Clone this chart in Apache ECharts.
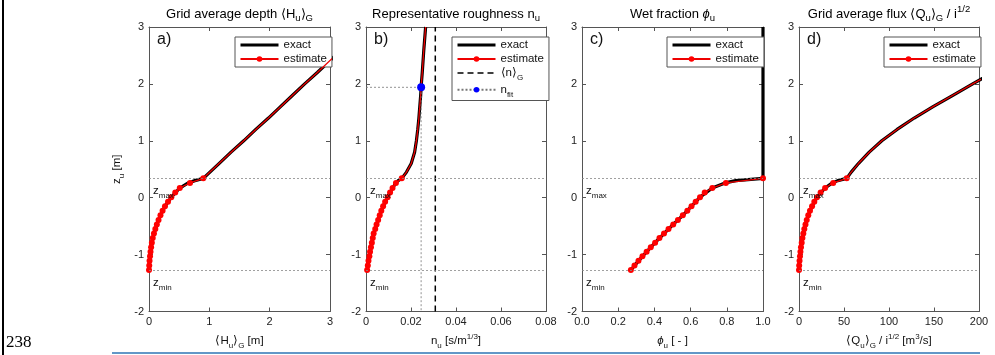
<!DOCTYPE html>
<html>
<head>
<meta charset="utf-8">
<script src="https://cdn.jsdelivr.net/npm/echarts@6/dist/echarts.min.js"></script>
<style>
  html, body { margin: 0; padding: 0; background: #fff; }
  #chart { width: 995px; height: 355px; }
</style>
</head>
<body>
<div id="chart"></div>
<script>
// elevations of the estimate points and of the exact curve [m]
const zEst = [-1.27, -1.19, -1.11, -1.03, -0.95, -0.87, -0.79, -0.71, -0.63, -0.55, -0.47,
  -0.39, -0.31, -0.23, -0.15, -0.07, 0.01, 0.09, 0.17, 0.26, 0.34];
const zExact = [-1.27, -1.11, -0.95, -0.79, -0.63, -0.47, -0.31, -0.15, 0.01, 0.17, 0.26,
  0.30, 0.34, 0.45, 0.6, 0.8, 1.0, 1.2, 1.4, 1.6, 1.8, 2.0, 2.2, 2.6, 3.0];

// a) grid average depth
const depthEst = [0, 0.004, 0.009, 0.017, 0.025, 0.035, 0.047, 0.062, 0.082, 0.105, 0.13,
  0.158, 0.19, 0.225, 0.265, 0.315, 0.37, 0.435, 0.51, 0.68, 0.90];
const depthExact = [0, 0.009, 0.025, 0.047, 0.082, 0.13, 0.19, 0.265, 0.37, 0.51, 0.65,
  0.76, 0.90, 1.01, 1.16, 1.36, 1.57, 1.77, 1.98, 2.18, 2.38, 2.58, 2.79, 3.19, 3.60];
// b) representative roughness
const roughEst = [0.0005, 0.0008, 0.0011, 0.0015, 0.0018, 0.0022, 0.0026, 0.0030, 0.0034, 0.0041, 0.0047,
  0.0054, 0.0061, 0.0068, 0.0076, 0.0085, 0.0096, 0.0107, 0.0118, 0.0133, 0.0159];
const roughExact = [0.0005, 0.0011, 0.0018, 0.0026, 0.0034, 0.0047, 0.0061, 0.0076, 0.0096, 0.0118, 0.0133,
  0.0143, 0.0159, 0.0180, 0.0201, 0.0216, 0.0224, 0.0230, 0.0235, 0.0239, 0.0243, 0.0246, 0.0250, 0.0257, 0.0265];
const nGrid = 0.0308;
const nFit = 0.0245;
const zFit = 1.94;
// c) wet fraction
const wetEst = [0.27, 0.29, 0.312, 0.334, 0.357, 0.38, 0.404, 0.428, 0.453, 0.478, 0.504,
  0.53, 0.557, 0.582, 0.605, 0.628, 0.652, 0.678, 0.72, 0.795, 1.0];
const wetExact = [0.27, 0.312, 0.357, 0.404, 0.453, 0.504, 0.557, 0.605, 0.652, 0.72, 0.79,
  0.85, 1, 1, 1, 1, 1, 1, 1, 1, 1, 1, 1, 1, 1];
// d) grid average flux
const fluxEst = [0, 0.2, 0.6, 1.1, 1.6, 2.2, 3.0, 3.8, 4.8, 5.9, 7.2,
  8.6, 10.3, 12.2, 14.5, 17, 20, 24, 29, 38, 53];
const fluxExact = [0, 0.6, 1.6, 3.0, 4.8, 7.2, 10.3, 14.5, 20, 29, 37,
  43, 53, 58, 66, 78, 92, 109, 128, 149, 171, 193, 215, 259, 303];

const zMax = 0.345;
const zMin = -1.27;

// axis ranges [min, max, interval]
const xRanges = [[0, 3, 1], [0, 0.08, 0.02], [0, 1, 0.2], [0, 200, 50]];
const yTicks = [-2, 3, 1];

const FONT = 'Liberation Sans, Arial, sans-serif';

const rich = (fs) => ({
  n: { fontSize: fs, fontFamily: FONT, color: '#111', lineHeight: fs + 6 },
  i: { fontSize: fs, fontFamily: FONT, color: '#111', lineHeight: fs + 6, fontStyle: 'italic' },
  s: { fontSize: fs - 3.5, fontFamily: FONT, color: '#111', lineHeight: fs - 3, verticalAlign: 'bottom' },
  p: { fontSize: fs - 3.5, fontFamily: FONT, color: '#111', lineHeight: fs - 3, verticalAlign: 'top' },
});

const titles = [
  '{n|Grid average depth ⟨H}{s|u}{n|⟩}{s|G}',
  '{n|Representative roughness n}{s|u}',
  '{n|Wet fraction }{i|ϕ}{s|u}',
  '{n|Grid average flux ⟨Q}{s|u}{n|⟩}{s|G}{n| / i}{p|1/2}',
];
const xNames = [
  '{n|⟨H}{s|u}{n|⟩}{s|G}{n| [m]}',
  '{n|n}{s|u}{n| [s/m}{p|1/3}{n|]}',
  '{i|ϕ}{s|u}{n| [ - ]}',
  '{n|⟨Q}{s|u}{n|⟩}{s|G}{n| / i}{p|1/2}{n| [m}{p|3}{n|/s]}',
];
const panelTags = ['a)', 'b)', 'c)', 'd)'];

const grids = [
  { left: 149, width: 181 },
  { left: 366, width: 180 },
  { left: 582, width: 181 },
  { left: 799, width: 180 },
];
const TOP = 27, HEIGHT = 289;

const pairs = (xs, zs) => xs.map((v, i) => [v, zs[i]]);

const axisLine = { show: true, onZero: false, lineStyle: { color: '#555', width: 1 } };
const axisTick = { show: true, inside: true, length: 4, lineStyle: { color: '#555' } };

const xAxes = [], yAxes = [];
['bottom', 'top'].forEach((pos) => {
  xRanges.forEach((r, i) => {
    xAxes.push({
      type: 'value', gridIndex: i, position: pos, min: r[0], max: r[1], interval: r[2],
      axisLine, axisTick, splitLine: { show: false },
      axisLabel: {
        show: pos === 'bottom', color: '#222', fontSize: 11, fontFamily: FONT, margin: 5,
        formatter: i === 2 ? (v) => v.toFixed(1) : null,
      },
      name: pos === 'bottom' ? xNames[i] : '',
      nameLocation: 'middle', nameGap: 21,
      nameTextStyle: { rich: rich(11.5) },
    });
  });
});
['left', 'right'].forEach((pos) => {
  grids.forEach((g, i) => {
    yAxes.push({
      type: 'value', gridIndex: i, position: pos, min: yTicks[0], max: yTicks[1], interval: yTicks[2],
      axisLine, axisTick, splitLine: { show: false },
      axisLabel: { show: pos === 'left', color: '#222', fontSize: 11, fontFamily: FONT, margin: 5 },
      name: pos === 'left' && i === 0 ? '{n|z}{s|u}{n| [m]}' : '',
      nameLocation: 'middle', nameGap: 23, nameRotate: 90,
      nameTextStyle: { rich: rich(11.5) },
    });
  });
});

const guideLines = {
  silent: true, symbol: ['none', 'none'], animation: false,
  lineStyle: { color: '#888', type: [2, 2], width: 0.8 },
  emphasis: { disabled: true },
  label: { position: 'insideStartBottom', distance: 4, rich: rich(11.5) },
  data: [
    { yAxis: zMax, label: { formatter: '{n|z}{s|max}' } },
    { yAxis: zMin, label: { formatter: '{n|z}{s|min}' } },
  ],
};

const estVals = [depthEst, roughEst, wetEst, fluxEst];
const exactVals = [depthExact, roughExact, wetExact, fluxExact];

const series = [];
grids.forEach((g, i) => {
  series.push({
    type: 'line', name: 'exact', xAxisIndex: i, yAxisIndex: i,
    data: pairs(exactVals[i], zExact), symbol: 'none', animation: false,
    lineStyle: { color: '#000', width: 3.2 }, itemStyle: { color: '#000' }, z: 3,
  });
  // above z_max the estimate follows the analytic curve, drawn without markers
  // (not in panel c, where only the black exact line shows at phi = 1)
  const upper = i === 2 ? [] : pairs(exactVals[i], zExact)
    .filter((p) => p[1] > zMax)
    .map((p) => ({ value: p, symbol: 'none' }));
  series.push({
    type: 'line', name: 'estimate', xAxisIndex: i, yAxisIndex: i,
    data: pairs(estVals[i], zEst).concat(upper), symbol: 'circle', symbolSize: 6, animation: false,
    lineStyle: { color: '#e00', width: 1.3 }, itemStyle: { color: '#f00' }, z: 4,
    markLine: guideLines,
  });
});
// panel b extras
series.push({
  type: 'line', name: 'nG', xAxisIndex: 1, yAxisIndex: 1,
  data: [[nGrid, yTicks[0]], [nGrid, yTicks[1]]], symbol: 'none', animation: false,
  lineStyle: { color: '#000', width: 1.5, type: [6, 4] }, itemStyle: { color: '#000' }, z: 2,
});
series.push({
  type: 'line', name: 'nfit', xAxisIndex: 1, yAxisIndex: 1,
  data: [
    { value: [0, zFit], symbol: 'none' },
    { value: [nFit, zFit] },
    { value: [nFit, yTicks[0]], symbol: 'none' },
  ],
  symbol: 'circle', symbolSize: 8, animation: false,
  lineStyle: { color: '#777', width: 0.8, type: [2, 2] }, itemStyle: { color: '#00f' }, z: 5,
});

const legendNames = {
  exact: '{n|exact}',
  estimate: '{n|estimate}',
  nG: '{n|⟨n⟩}{s|G}',
  nfit: '{n|n}{s|fit}',
};
const noDot = { opacity: 0 };
const legendLefts = [235, 452, 667, 884];
const legends = legendLefts.map((l, i) => ({
  left: l, top: 37, orient: 'vertical', selectedMode: false,
  data: [
    { name: 'exact', itemStyle: noDot, lineStyle: { width: 3 } },
    { name: 'estimate' },
  ].concat(i === 1 ? [
    { name: 'nG', itemStyle: noDot, lineStyle: { width: 1.5 } },
    { name: 'nfit' },
  ] : []),
  itemWidth: 38, itemHeight: 7, itemGap: 2, padding: [2, 5, 2, 4],
  borderColor: '#555', borderWidth: 1, backgroundColor: '#fff',
  formatter: (name) => legendNames[name],
  textStyle: { rich: rich(11.5) },
}));

const graphic = [];
grids.forEach((g, i) => {
  graphic.push({
    type: 'text', x: g.left + g.width / 2, y: 14, z: 10,
    style: { text: titles[i], rich: rich(13), align: 'center', verticalAlign: 'middle',
      textAlign: 'center', textVerticalAlign: 'middle' },
  });
  graphic.push({
    type: 'text', x: g.left + 8, y: 40, z: 10,
    style: { text: panelTags[i], font: '16px ' + FONT, fill: '#111',
      verticalAlign: 'middle', textVerticalAlign: 'middle' },
  });
});
// page decorations of the manuscript
graphic.push({ type: 'line', shape: { x1: 3, y1: 0, x2: 3, y2: 355 }, style: { stroke: '#000', lineWidth: 2 } });
graphic.push({ type: 'line', shape: { x1: 112, y1: 353, x2: 980, y2: 353 }, style: { stroke: '#2e74b5', lineWidth: 1.5 } });
graphic.push({
  type: 'text', x: 6, y: 351,
  style: { text: '238', font: '17px Liberation Serif, Times New Roman, serif', fill: '#000',
    verticalAlign: 'bottom', textVerticalAlign: 'bottom' },
});

const chart = echarts.init(document.getElementById('chart'));
chart.setOption({
  animation: false,
  backgroundColor: '#fff',
  grid: grids.map((g) => ({ left: g.left, width: g.width, top: TOP, height: HEIGHT })),
  xAxis: xAxes,
  yAxis: yAxes,
  legend: legends,
  series,
  graphic,
});
</script>
</body>
</html>
